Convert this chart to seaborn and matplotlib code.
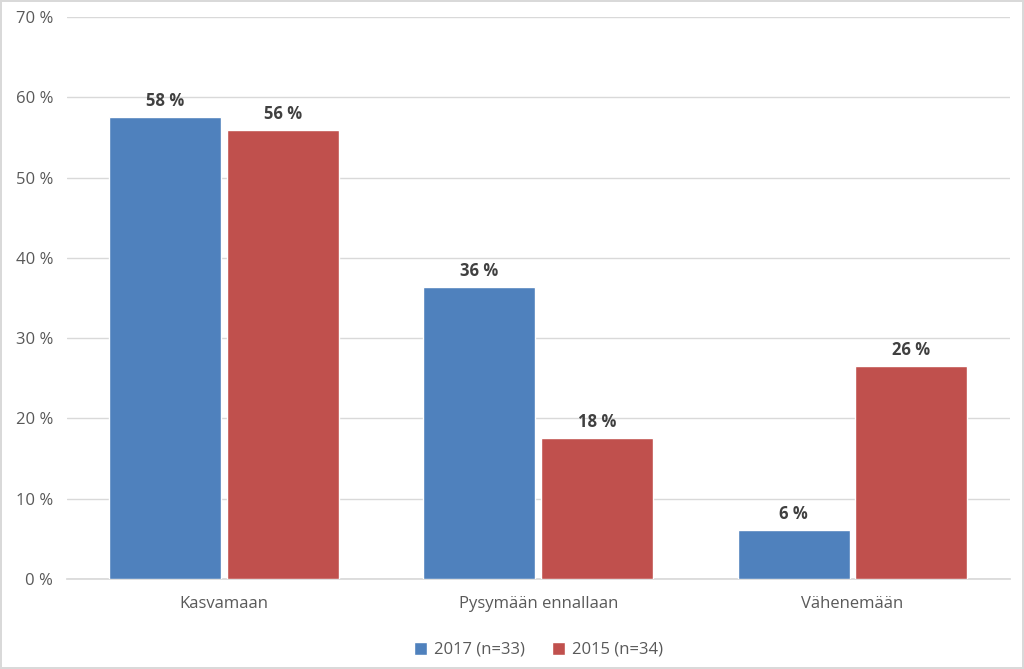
import numpy as np
import pandas as pd
import matplotlib.pyplot as plt
import seaborn as sns

# data
categories = ['Kasvamaan', 'Pysymään ennallaan', 'Vähenemään']
series = ['2017 (n=33)', '2015 (n=34)']
values_2017 = [57.6, 36.4, 6.1]
values_2015 = [55.9, 17.6, 26.5]
labels_2017 = ['58 %', '36 %', '6 %']
labels_2015 = ['56 %', '18 %', '26 %']

df = pd.DataFrame({
    'category': categories * 2,
    'series': [series[0]] * 3 + [series[1]] * 3,
    'value': values_2017 + values_2015,
})

sns.set_theme(style='white')
plt.rcParams['font.family'] = ['Open Sans', 'DejaVu Sans']

fig = plt.figure(figsize=(10.24, 6.69), dpi=100)
fig.patch.set_edgecolor('#d9d9d9')
fig.patch.set_linewidth(1.5)
ax = fig.add_axes([0.0654, 0.1345, 0.9206, 0.8401])

sns.barplot(data=df, x='category', y='value', hue='series',
            palette=['#4F81BD', '#C0504D'], width=0.75, gap=0.05,
            saturation=1, ax=ax, zorder=3)

for cont, labs in zip(ax.containers, [labels_2017, labels_2015]):
    ax.bar_label(cont, labels=labs, padding=5, fontsize=12,
                 fontweight='bold', color='#404040')

ax.set_ylim(0, 70)
ax.set_yticks(np.arange(0, 71, 10))
ax.set_yticklabels([f'{v} %' for v in range(0, 71, 10)])
ax.yaxis.grid(True, color='#d9d9d9', linewidth=1, zorder=0)
ax.set_xlabel('')
ax.set_ylabel('')
for s in ['top', 'right', 'left']:
    ax.spines[s].set_visible(False)
ax.spines['bottom'].set_color('#d9d9d9')
ax.tick_params(axis='both', length=0, labelsize=12, colors='#595959')
ax.tick_params(axis='x', pad=12)
ax.tick_params(axis='y', pad=10)

ax.legend(loc='upper center', bbox_to_anchor=(0.5, -0.085), ncol=2,
          frameon=False, fontsize=12, handlelength=0.8, handleheight=0.8,
          columnspacing=1.6, handletextpad=0.4, labelcolor='#595959')

fig.savefig('out.png', dpi=100)
